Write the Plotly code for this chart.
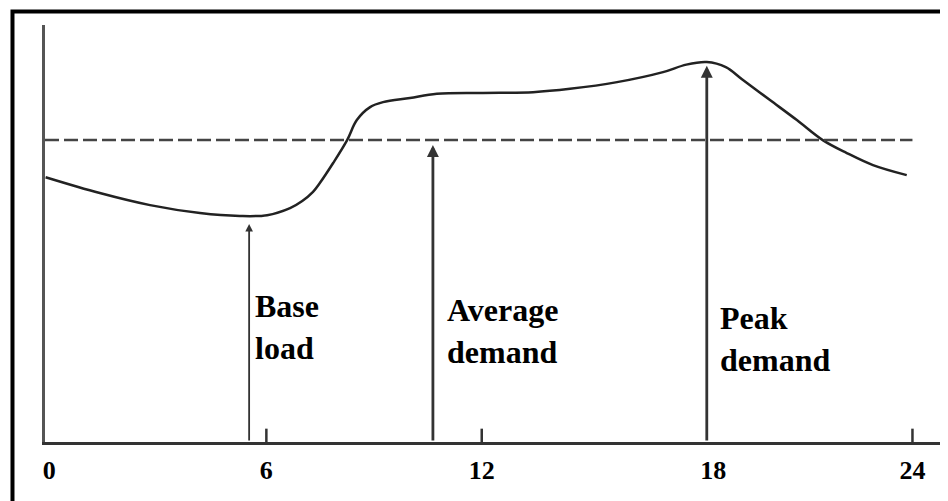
import plotly.graph_objects as go

# Load curve (hour of day, relative demand)
hours = [-0.15, 1.36, 2.76, 4.15, 5.26, 6.02, 6.66, 7.00, 7.30, 7.49, 7.86, 8.25, 8.52, 8.89,
         9.25, 10.0, 10.75, 12.03, 13.43, 14.46, 15.77, 17.05, 17.70, 18.27, 18.80,
         19.25, 20.03, 20.78, 21.50, 22.17, 22.90, 23.84]
demand = [63.5, 59.7, 56.8, 54.9, 54.2, 54.4, 56.1, 57.8, 60.0, 62.1, 66.9, 72.4, 77.2, 80.3,
          81.5, 82.5, 83.5, 83.7, 83.9, 84.7, 86.3, 88.7, 90.5, 91.1, 89.9,
          87.0, 82.0, 77.2, 72.4, 69.3, 66.4, 64.0]

average_level = 72.4
average_end = 24.0

# Arrows: position (hour), tip level, label
arrow_hours = [5.52, 10.64, 18.27]
arrow_tips = [52.3, 71.2, 90.2]
arrow_widths = [1.8, 2.8, 2.8]
labels = ["Base<br>load", "Average<br>demand", "Peak<br>demand"]
label_hours = [5.63, 10.98, 18.58]
label_levels = [27.6, 26.6, 24.6]

tick_positions = [-0.05, 6, 12, 18.45, 24]
tick_labels = ["0", "6", "12", "18", "24"]
tick_mark_hours = [6, 12, 24]

fig = go.Figure()

fig.add_trace(go.Scatter(
    x=hours, y=demand, mode="lines",
    line=dict(color="#222222", width=2.5, shape="spline", smoothing=1.0),
    hoverinfo="skip", showlegend=False))

fig.add_trace(go.Scatter(
    x=[-0.167, average_end], y=[average_level, average_level], mode="lines",
    line=dict(color="#444444", width=2.5, dash="14px,5px"),
    hoverinfo="skip", showlegend=False))

# small tick marks on x-axis
for th in tick_mark_hours:
    fig.add_trace(go.Scatter(
        x=[th, th], y=[0, 3.2], mode="lines",
        line=dict(color="#333333", width=2.5),
        hoverinfo="skip", showlegend=False))

for h, tip, w in zip(arrow_hours, arrow_tips, arrow_widths):
    fig.add_annotation(
        x=h, y=tip, ax=h, ay=0, xref="x", yref="y", axref="x", ayref="y",
        showarrow=True, arrowhead=2, arrowsize=0.85, arrowwidth=w,
        arrowcolor="#333333", text="")

for h, lv, t in zip(label_hours, label_levels, labels):
    fig.add_annotation(
        x=h, y=lv, xref="x", yref="y", text=t, showarrow=False,
        xanchor="left", yanchor="middle", align="left",
        font=dict(family="Liberation Serif", size=32, color="black", weight="bold"))

# outer black frame
fig.add_shape(type="rect", xref="paper", yref="paper",
              x0=-0.036, x1=1.02, y0=-0.2, y1=1.0324,
              line=dict(color="black", width=4), fillcolor="rgba(0,0,0,0)",
              layer="above")

fig.update_xaxes(
    range=[-0.167, 24.99], showgrid=False, zeroline=False,
    showline=True, linecolor="#333333", linewidth=3,
    tickmode="array", tickvals=tick_positions, ticktext=tick_labels,
    ticks="", ticklabelstandoff=3,
    tickfont=dict(family="Liberation Serif", size=26, color="black", weight="bold"))
fig.update_yaxes(
    range=[0, 100], showgrid=False, zeroline=False,
    showline=True, linecolor="#555555", linewidth=2.5,
    showticklabels=False, ticks="")

fig.update_layout(
    width=940, height=493,
    margin=dict(l=37, r=0, t=17, b=59),
    paper_bgcolor="white", plot_bgcolor="white",
    showlegend=False)

fig.write_html("out.html")
